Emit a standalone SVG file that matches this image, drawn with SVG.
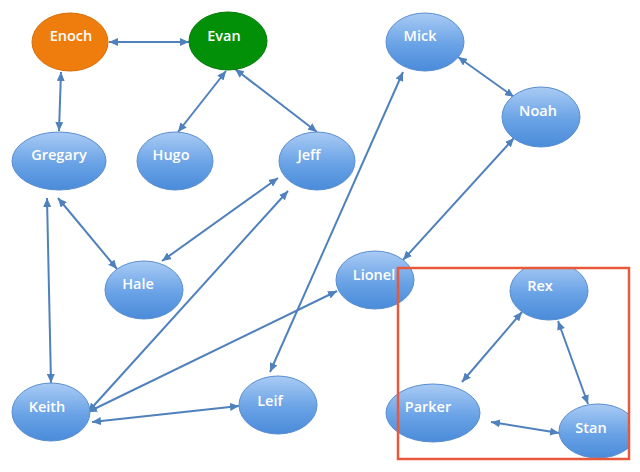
<svg xmlns="http://www.w3.org/2000/svg" width="640" height="472" viewBox="0 0 640 472">
<defs>
<linearGradient id="blue" x1="0" y1="0" x2="0" y2="1">
<stop offset="0" stop-color="#a9cbf4"/>
<stop offset="0.55" stop-color="#69a2e6"/>
<stop offset="1" stop-color="#4a8bd9"/>
</linearGradient>
<marker id="ah" viewBox="0 0 9 8" refX="9" refY="4" markerWidth="9" markerHeight="8" markerUnits="userSpaceOnUse" orient="auto-start-reverse">
<path d="M0,0 L9,4 L0,8 z" fill="#4f81bd"/>
</marker>
<clipPath id="clipRex"><rect x="0" y="269" width="640" height="203"/></clipPath>
<clipPath id="clipStan"><rect x="0" y="0" width="629" height="472"/></clipPath>
</defs>
<style>
.node{fill:url(#blue);stroke:#5a8ed0;stroke-width:1}
.lbl{font-family:"Open Sans","Liberation Sans",sans-serif;font-weight:600;font-size:14.5px;fill:#ffffff;text-anchor:middle}
.edge{stroke:#4f81bd;stroke-width:2;fill:none;marker-start:url(#ah);marker-end:url(#ah)}
</style>
<rect width="640" height="472" fill="#ffffff"/>
<g id="connectors">
<line class="edge" x1="109" y1="42" x2="189" y2="42"/>
<line class="edge" x1="61" y1="72" x2="59" y2="131"/>
<line class="edge" x1="226" y1="71" x2="178" y2="132"/>
<line class="edge" x1="235" y1="69" x2="317" y2="132"/>
<line class="edge" x1="458" y1="57" x2="514" y2="97"/>
<line class="edge" x1="514" y1="138" x2="403" y2="260"/>
<line class="edge" x1="403" y1="72" x2="270" y2="372"/>
<line class="edge" x1="47" y1="198" x2="51" y2="383"/>
<line class="edge" x1="58" y1="198" x2="117" y2="269"/>
<line class="edge" x1="278" y1="178" x2="162" y2="261"/>
<line class="edge" x1="288" y1="191" x2="88" y2="412"/>
<line class="edge" x1="88" y1="412" x2="337" y2="291"/>
<line class="edge" x1="92" y1="422" x2="239" y2="406"/>
<line class="edge" x1="522" y1="312" x2="462" y2="382"/>
<line class="edge" x1="558" y1="321" x2="588" y2="404"/>
<line class="edge" x1="491" y1="422" x2="559" y2="433"/>
</g>
<g id="Enoch"><ellipse cx="70" cy="42" rx="38" ry="29" fill="#ef7d0e" stroke="#d86d08" stroke-width="1"/><text class="lbl" x="71" y="41">Enoch</text></g>
<g id="Evan"><ellipse cx="228" cy="41" rx="39" ry="29" fill="#039009" stroke="#037a07" stroke-width="1"/><text class="lbl" x="224" y="41">Evan</text></g>
<g id="Gregary"><ellipse class="node" cx="59" cy="161" rx="47" ry="29"/><text class="lbl" x="59" y="160">Gregary</text></g>
<g id="Hugo"><ellipse class="node" cx="175" cy="161" rx="38" ry="29"/><text class="lbl" x="171" y="160">Hugo</text></g>
<g id="Jeff"><ellipse class="node" cx="317" cy="161" rx="38" ry="29"/><text class="lbl" x="309" y="160">Jeff</text></g>
<g id="Mick"><ellipse class="node" cx="425" cy="42" rx="39" ry="29"/><text class="lbl" x="420" y="41">Mick</text></g>
<g id="Noah"><ellipse class="node" cx="541" cy="117" rx="39" ry="30"/><text class="lbl" x="538" y="116">Noah</text></g>
<g id="Hale"><ellipse class="node" cx="144" cy="290" rx="39" ry="29"/><text class="lbl" x="138" y="289">Hale</text></g>
<g id="Keith"><ellipse class="node" cx="51" cy="412" rx="39" ry="29"/><text class="lbl" x="47" y="412">Keith</text></g>
<g id="Leif"><ellipse class="node" cx="278" cy="405" rx="39" ry="29"/><text class="lbl" x="270" y="406">Leif</text></g>
<g id="Lionel"><ellipse class="node" cx="375" cy="280" rx="39" ry="29"/><text class="lbl" x="374" y="280">Lionel</text></g>
<g id="Rex"><ellipse class="node" cx="549" cy="291" rx="39" ry="29" clip-path="url(#clipRex)"/><text class="lbl" x="540" y="291">Rex</text></g>
<g id="Parker"><ellipse class="node" cx="433" cy="413" rx="47" ry="29"/><text class="lbl" x="428" y="412">Parker</text></g>
<g id="Stan"><ellipse class="node" cx="598" cy="431" rx="39" ry="27" clip-path="url(#clipStan)"/><text class="lbl" x="591" y="433">Stan</text></g>
<g id="group-box"><rect x="398" y="268" width="231" height="191" fill="none" stroke="#e8593c" stroke-width="2.5"/></g>
</svg>
